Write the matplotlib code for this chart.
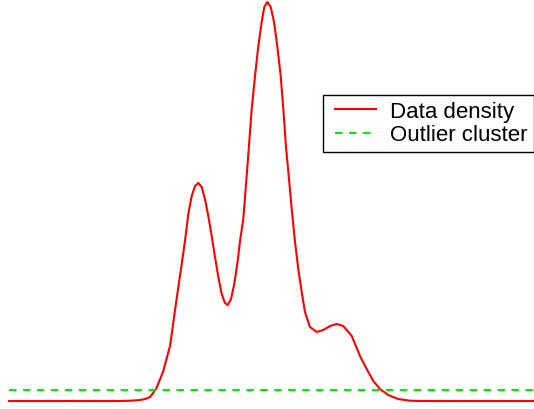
import matplotlib.pyplot as plt
from matplotlib.legend_handler import HandlerLine2D

# density curve, sampled by hand
dens_x = [0.000, 1.733, 2.114, 2.305, 2.495, 2.590, 2.686, 2.800, 2.933, 3.067,
          3.152, 3.225, 3.290, 3.352, 3.415, 3.480, 3.543, 3.606, 3.670, 3.733,
          3.796, 3.861, 3.924, 3.987, 4.051, 4.114, 4.166, 4.229, 4.291, 4.356,
          4.400, 4.463, 4.552, 4.623, 4.686, 4.749, 4.813, 4.863, 4.920, 4.985,
          5.048, 5.110, 5.175, 5.225, 5.276, 5.333, 5.385, 5.448, 5.510, 5.575,
          5.638, 5.733, 5.861, 5.987, 6.114, 6.242, 6.368, 6.528, 6.686, 6.813,
          6.939, 7.067, 7.225, 7.415, 7.638, 7.829, 10.000]
dens_y = [0.0000, 0.0000, 0.0000, 0.0003, 0.0010, 0.0020, 0.0040, 0.0120, 0.0291, 0.0551,
          0.0872, 0.1143, 0.1373, 0.1604, 0.1875, 0.2055, 0.2155, 0.2186, 0.2145, 0.2025,
          0.1855, 0.1654, 0.1444, 0.1243, 0.1073, 0.0982, 0.0962, 0.1023, 0.1173, 0.1404,
          0.1604, 0.1825, 0.2426, 0.2927, 0.3258, 0.3559, 0.3799, 0.3950, 0.4000, 0.3950,
          0.3799, 0.3559, 0.3258, 0.2927, 0.2546, 0.2226, 0.1925, 0.1594, 0.1323, 0.1093,
          0.0892, 0.0742, 0.0692, 0.0712, 0.0752, 0.0772, 0.0752, 0.0652, 0.0451, 0.0321,
          0.0201, 0.0120, 0.0060, 0.0020, 0.0003, 0.0000, 0.0000]

outlier_level = 0.011


class InsetLine(HandlerLine2D):
    # legend sample line that starts a little to the right of its box
    def get_xdata(self, legend, xdescent, ydescent, width, height, fontsize):
        xdata, xmark = super().get_xdata(legend, xdescent, ydescent, width, height, fontsize)
        xdata = [-xdescent + 0.26 * fontsize, -xdescent + width]
        return xdata, xmark


fig = plt.figure(figsize=(5.34, 4.10), dpi=100)
ax = fig.add_axes([0, 0, 1, 1])
ax.plot(dens_x, dens_y, color='#ff0000', lw=1.5, label='Data density')
ax.plot([0, 10], [outlier_level, outlier_level], color='#00ee00', lw=1.5,
        ls=(0, (3.6, 3.1)), label='Outlier cluster')

ax.set_xlim(-0.1714, 10)
ax.set_ylim(-0.008, 0.403)
ax.axis('off')

leg = ax.legend(loc='upper right', bbox_to_anchor=(1.0, 1 - 96 / 410),
                bbox_transform=fig.transFigure, borderaxespad=0, fancybox=False,
                framealpha=1, edgecolor='black', handlelength=2.1,
                handletextpad=0.63, labelspacing=0.1, borderpad=0.28,
                handler_map={plt.Line2D: InsetLine()},
                prop={'family': 'Liberation Sans', 'size': 16})
leg.get_frame().set_linewidth(1.0)

fig.savefig('out.png', dpi=100)
